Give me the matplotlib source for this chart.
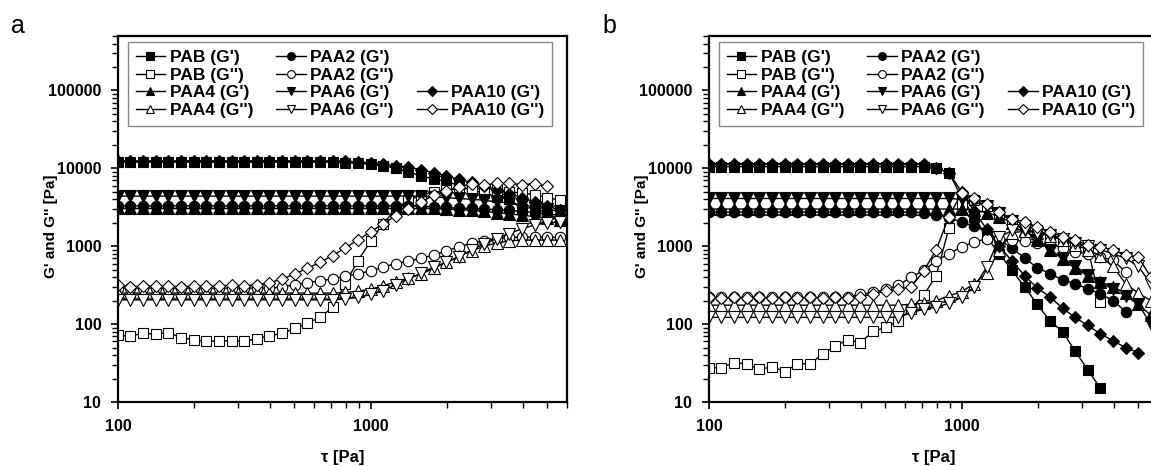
import matplotlib.pyplot as plt
from matplotlib.lines import Line2D
from matplotlib.ticker import LogLocator, NullFormatter

plt.rcParams['font.family'] = ['Liberation Sans', 'DejaVu Sans']
plt.rcParams['font.weight'] = 'bold'

# shear stress grid (20 points per decade)
tau = [100, 112, 126, 141, 158, 178, 200, 224, 251, 282, 316, 355, 398, 447, 501, 562,
       631, 708, 794, 891, 1000, 1122, 1259, 1413, 1585, 1778, 1995, 2239, 2512, 2818,
       3162, 3548, 3981, 4467, 5012, 5623]

# ---- panel a ----
a_pab_g1 = [12000] * 18 + [11800, 11600, 11300, 10800, 10000, 9000, 8000, 7300, 6800,
                           6000, 5300, 4800, 4300, 4000, 3000, 3200, 2600, 2200]
a_pab_g2 = [72, 70, 77, 74, 78, 67, 63, 60, 61, 61, 60, 65, 71, 76, 88, 103, 122, 165,
            330, 650, 1150, 1950, 3000, 3900, 4500, 5000, 5300, 5400, 5500, 5500, 5300,
            5000, 4800, 4600, 4200, 3900]
a_paa2_g1 = [3300] * 24 + [3250, 3200, 3150, 3100, 3050, 3000, 2950, 2900, 2800, 2700,
                           2600, 2500]
a_paa2_g2 = [290] * 13 + [300, 320, 340, 360, 380, 410, 445, 480, 540, 600, 640, 700,
                          770, 870, 980, 1100, 1180, 1250, 1300, 1300, 1320, 1300, 1300]
a_paa4_g1 = [3050] * 26 + [3000, 2950, 2900, 2800, 2700, 2600, 2500, 2400, 2300, 2200]
a_paa4_g2 = [250] * 18 + [255, 265, 280, 310, 350, 390, 440, 520, 620, 740, 870, 1000,
                          1100, 1170, 1200, 1200, 1200, 1200]
a_paa6_g1 = [4400] * 25 + [4300, 4200, 4100, 4000, 3900, 3700, 3600, 3400, 3200, 3000,
                           2800]
a_paa6_g2 = [205] * 18 + [210, 220, 240, 270, 320, 380, 450, 540, 620, 730, 890, 1080,
                          1250, 1450, 1680, 1870, 2000, 2050]
a_paa10_g1 = [12500] * 18 + [12300, 12000, 11700, 11300, 10800, 10300, 9600, 8800, 8000,
                             7200, 6600, 6000, 5300, 4700, 4200, 3700, 3300, 2900]
a_paa10_g2 = [320, 300, 310, 305, 310, 300, 310, 305, 310, 315, 310, 320, 340, 380, 440,
              520, 620, 760, 950, 1200, 1530, 1950, 2450, 3000, 3700, 4500, 5100, 5800,
              6300, 6100, 6400, 6400, 6200, 6300, 5900]

# ---- panel b ----
b_pab_g1 = [10500] * 18 + [10000, 8800, 4300, 2400, 1300, 800, 490, 300, 180, 110, 80,
                           45, 26, 15]
b_pab_g2 = [27.4, 27.7, 32, 31, 26.3, 28.3, 24.6, 31, 31, 41, 52.7, 62.5, 58, 81, 90.5,
            111, 157, 233, 420, 1700, 3500, 3900, 3300, 2600, 2200, 1900, 1600, 1400,
            1250, 1100, 950, 190]
b_paa2_g1 = [2750] * 17 + [2700, 2550, 2300, 2050, 1800, 1550, 1200, 950, 700, 530, 445,
                           370, 330, 285, 245, 200, 145]
b_paa2_g2 = [220] * 12 + [240, 255, 280, 315, 400, 490, 650, 800, 980, 1130, 1250, 1250,
                          1200, 1150, 1100, 1050, 950, 850, 800, 720, 660, 470]
b_paa4_g1 = [3000] * 21 + [2900, 2700, 2400, 2000, 1600, 1200, 900, 680, 520, 420, 350,
                           300, 250, 180, 130]
b_paa4_g2 = [175] * 16 + [180, 185, 200, 230, 260, 330, 450, 900, 1500, 1550, 1500, 1350,
                          1200, 1050, 900, 750, 550, 330, 250, 200]
b_paa6_g1 = [4100] * 20 + [4000, 3700, 3300, 2700, 2100, 1600, 1200, 900, 700, 560, 430,
                           340, 280, 230, 180, 100]
b_paa6_g2 = [122] * 16 + [140, 155, 165, 185, 220, 300, 540, 1300, 1600, 1650, 1500, 1400,
                          1250, 1100, 1000, 900, 800, 700, 550, 330]
b_paa10_g1 = [11500] * 18 + [10200, 8800, 5000, 2800, 1650, 1000, 640, 420, 290, 225,
                             160, 122, 96, 75, 61, 50, 43]
b_paa10_g2 = [220, 215, 220, 215, 220, 215, 220, 215, 220, 215, 220, 215, 225, 244, 265,
              283, 300, 480, 900, 2390, 4800, 4100, 3530, 2760, 2260, 2050, 1770, 1530,
              1320, 1200, 1030, 980, 890, 765, 730, 400]

labels = ["PAB (G')", "PAB (G'')", "PAA2 (G')", "PAA2 (G'')", "PAA4 (G')", "PAA4 (G'')",
          "PAA6 (G')", "PAA6 (G'')", "PAA10 (G')", "PAA10 (G'')"]
markers = ['s', 's', 'o', 'o', '^', '^', 'v', 'v', 'D', 'D']
sizes = {'s': 7, 'o': 7.5, '^': 8, 'v': 8, 'D': 6.5}
panel_a = [a_pab_g1, a_pab_g2, a_paa2_g1, a_paa2_g2, a_paa4_g1, a_paa4_g2,
           a_paa6_g1, a_paa6_g2, a_paa10_g1, a_paa10_g2]
panel_b = [b_pab_g1, b_pab_g2, b_paa2_g1, b_paa2_g2, b_paa4_g1, b_paa4_g2,
           b_paa6_g1, b_paa6_g2, b_paa10_g1, b_paa10_g2]

W, H = 1151, 466
fig = plt.figure(figsize=(W / 100, H / 100), dpi=100)


def draw(left_px, data, letter):
    ax = fig.add_axes([left_px / W, 1 - 402 / H, 449 / W, 366 / H])
    handles = {}
    for lab, m, vals in zip(labels, markers, data):
        filled = "(G')" in lab
        h, = ax.plot(tau[:len(vals)], vals, color='black', lw=1.0, marker=m,
                     markersize=sizes[m], markerfacecolor='black' if filled else 'white',
                     markeredgecolor='black', markeredgewidth=0.8)
        handles[lab] = h
    ax.set_xscale('log')
    ax.set_yscale('log')
    ax.set_xlim(100, 6000)
    ax.set_ylim(10, 500000)
    ax.set_xticks([100, 1000])
    ax.set_xticklabels(['100', '1000'])
    ax.set_yticks([10, 100, 1000, 10000, 100000])
    ax.set_yticklabels(['10', '100', '1000', '10000', '100000'])
    ax.xaxis.set_minor_locator(LogLocator(base=10, subs=range(2, 10)))
    ax.yaxis.set_minor_locator(LogLocator(base=10, subs=range(2, 10)))
    ax.xaxis.set_minor_formatter(NullFormatter())
    ax.yaxis.set_minor_formatter(NullFormatter())
    ax.tick_params(which='major', direction='out', length=5, width=1.2, labelsize=11.5, pad=7)
    ax.tick_params(which='minor', direction='out', length=4, width=1.0)
    ax.tick_params(top=False, right=False, which='both')
    for s in ax.spines.values():
        s.set_linewidth(1.6)
    ax.set_xlabel('τ [Pa]', fontsize=12, fontweight='bold', va='center')
    ax.xaxis.set_label_coords(0.5, -0.152)
    ax.set_ylabel("G' and G'' [Pa]", fontsize=11, fontweight='bold', va='center')
    ax.yaxis.set_label_coords(-0.149, 0.48)

    blank = Line2D([], [], linestyle='none', marker='none')
    order = [handles["PAB (G')"], handles["PAB (G'')"], handles["PAA4 (G')"], handles["PAA4 (G'')"],
             handles["PAA2 (G')"], handles["PAA2 (G'')"], handles["PAA6 (G')"], handles["PAA6 (G'')"],
             blank, blank, handles["PAA10 (G')"], handles["PAA10 (G'')"]]
    names = ["PAB (G')", "PAB (G'')", "PAA4 (G')", "PAA4 (G'')",
             "PAA2 (G')", "PAA2 (G'')", "PAA6 (G')", "PAA6 (G'')",
             "", "", "PAA10 (G')", "PAA10 (G'')"]
    leg = ax.legend(order, names, ncol=3, loc='upper left', bbox_to_anchor=(0.022, 0.984),
                    borderaxespad=0, fancybox=False, framealpha=1, edgecolor='#888888',
                    fontsize=12.5, handlelength=1.7, handletextpad=0.25, columnspacing=1.35,
                    labelspacing=0.15, markerscale=0.75, borderpad=0.45)
    leg.get_frame().set_linewidth(1.0)
    fig.text((left_px - 100) / W, 1 - 26 / H, letter, fontsize=18, fontweight='normal',
             ha='center', va='center')
    return ax


draw(118, panel_a, 'a')
draw(709, panel_b, 'b')

fig.savefig('out.png', dpi=100)
